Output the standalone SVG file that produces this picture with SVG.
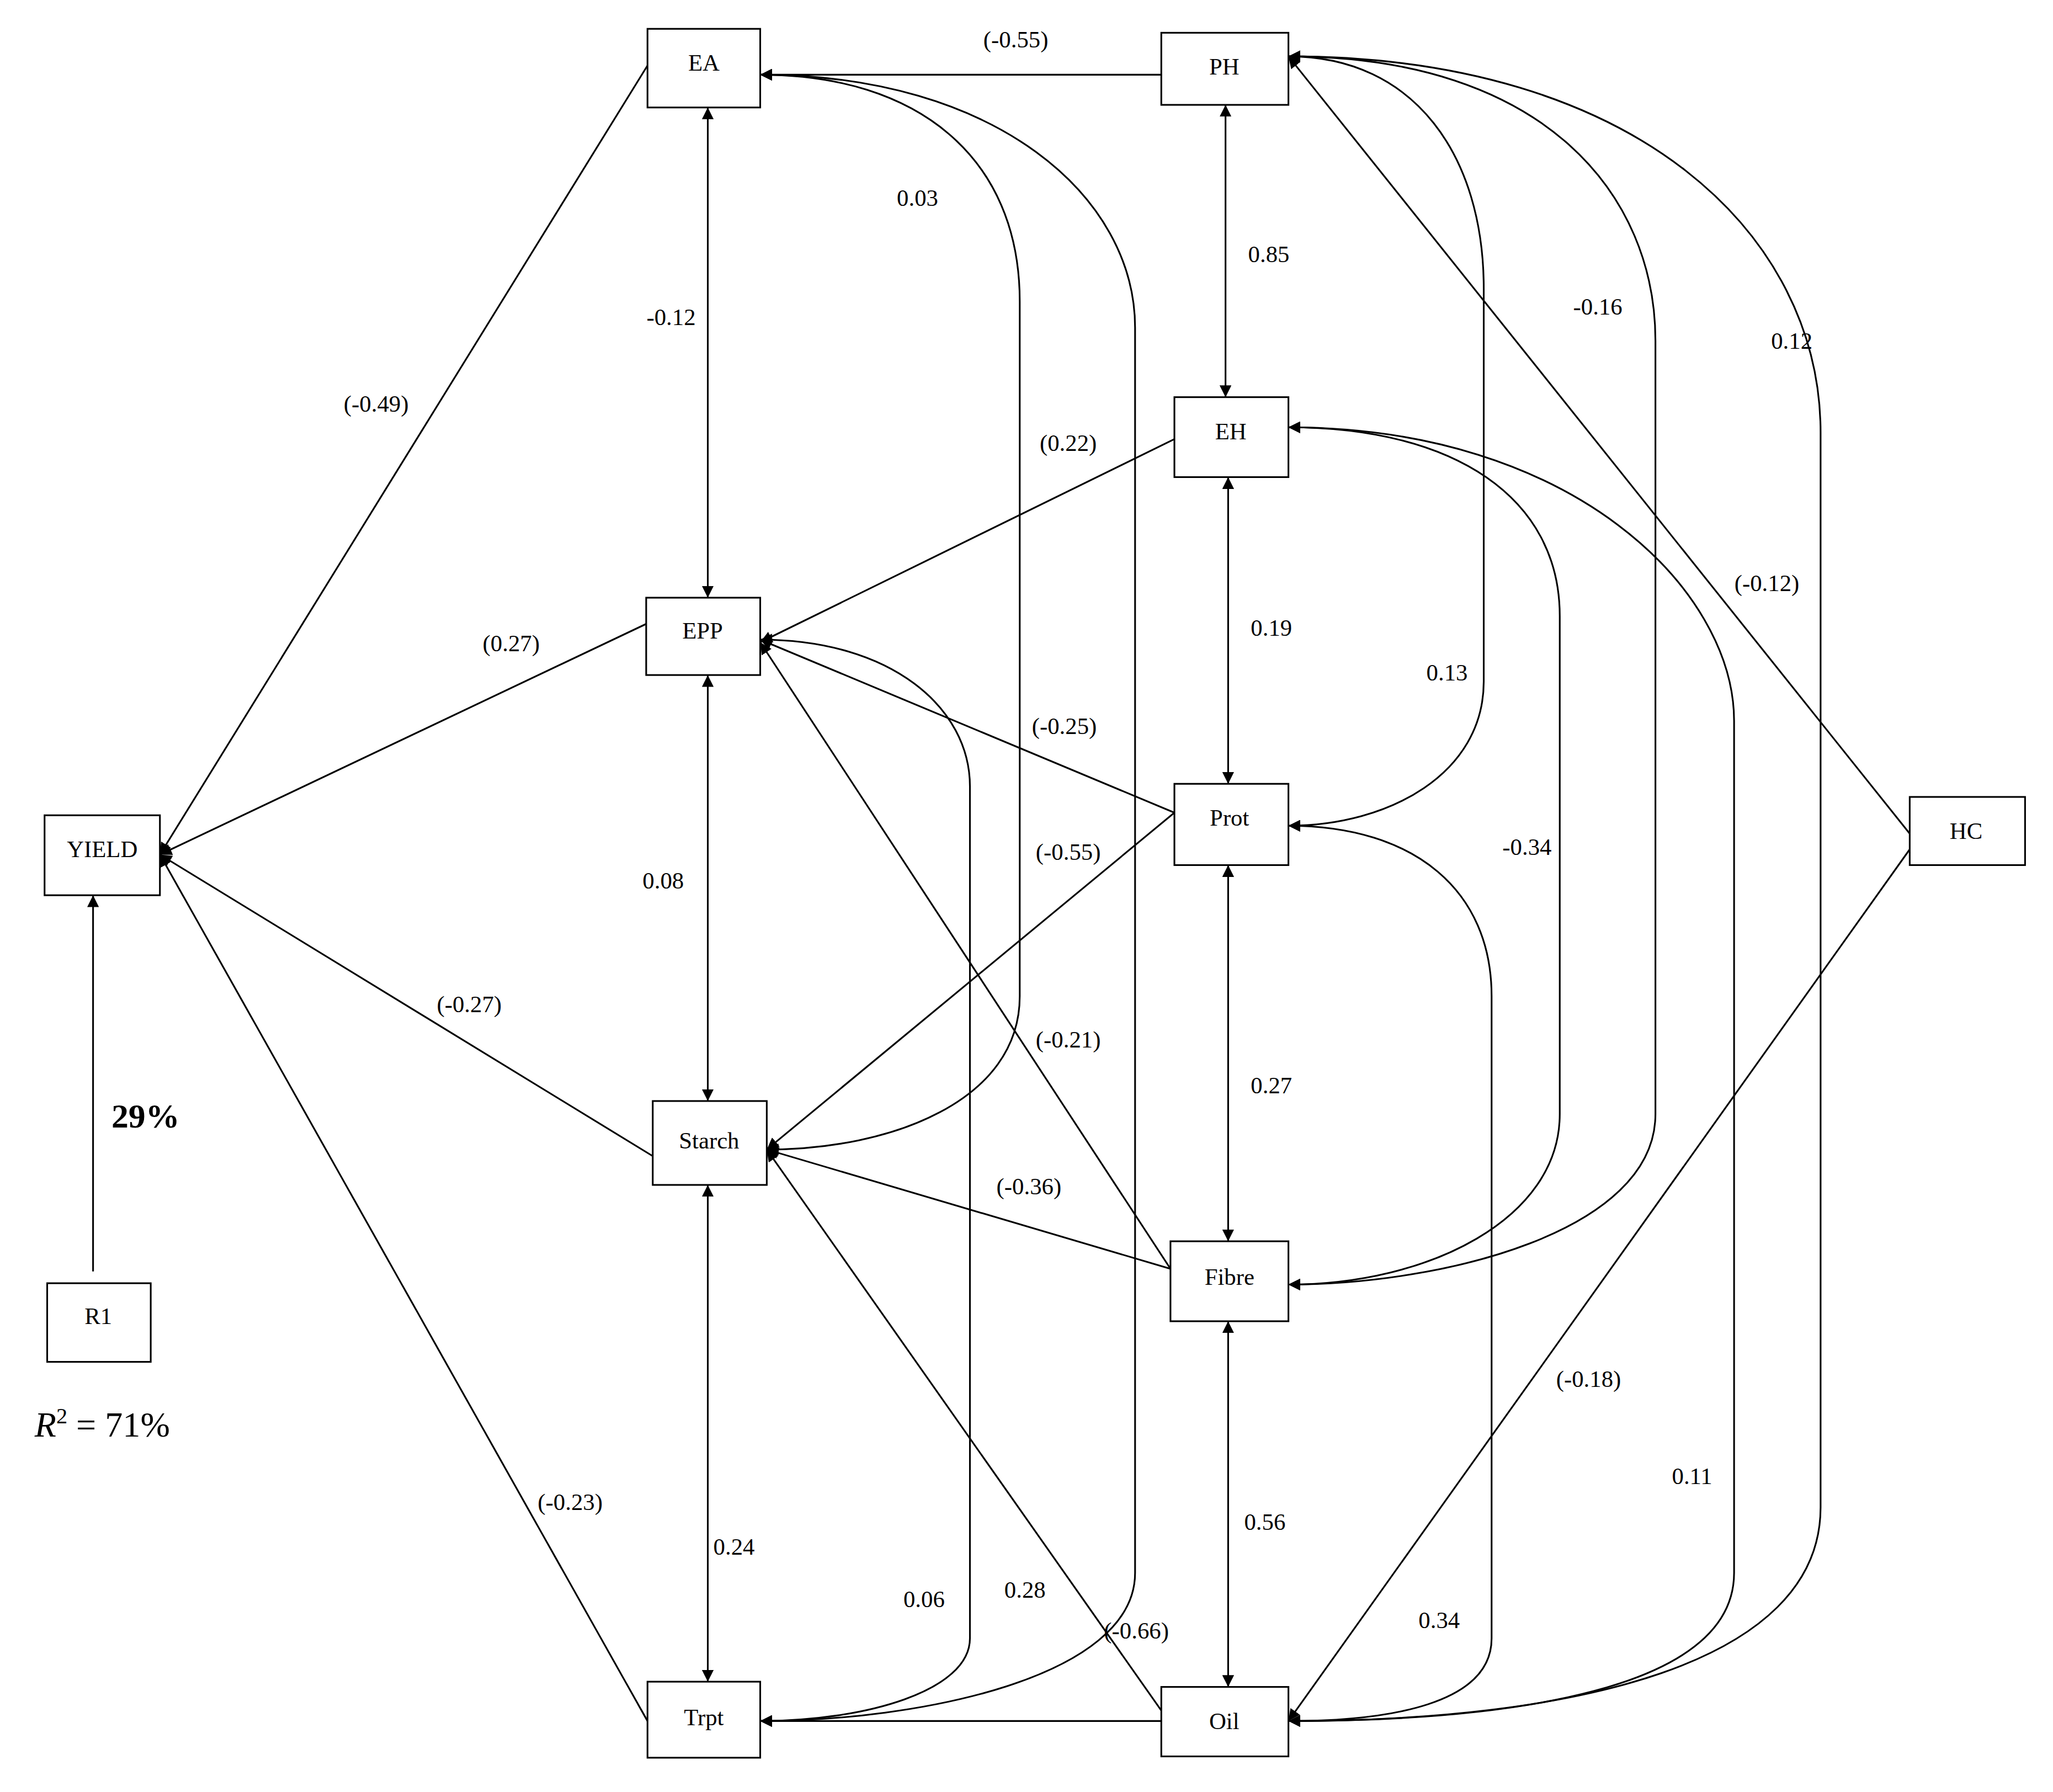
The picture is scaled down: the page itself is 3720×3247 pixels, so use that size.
<svg xmlns="http://www.w3.org/2000/svg" width="3720" height="3247" viewBox="0 0 3720 3247">
<style>
.n{fill:#fff;stroke:#000;stroke-width:1.3}
.t{font-family:"Liberation Serif",serif;font-size:18px;fill:#000;text-anchor:middle}
.c{fill:none;stroke:#000;stroke-width:1.3}
.a{marker-end:url(#ah)}
.d{marker-end:url(#ah);marker-start:url(#ah)}
</style>
<defs><marker id="ah" viewBox="0 0 10 10" refX="10" refY="5" markerWidth="9" markerHeight="9" markerUnits="userSpaceOnUse" orient="auto-start-reverse"><path d="M0,0L10,5L0,10z" fill="#000"/></marker></defs>
<rect width="3720" height="3247" fill="#fff"/>
<g transform="scale(2.375)">
<g id="connectors">
<line class="c a" x1="886" y1="57" x2="580" y2="57"/>
<line class="c a" x1="494" y1="50" x2="122" y2="652"/>
<line class="c d" x1="540" y1="82" x2="540" y2="456"/>
<line class="c d" x1="935" y1="80" x2="935" y2="303"/>
<line class="c a" x1="896" y1="335" x2="580" y2="490"/>
<line class="c a" x1="493" y1="476" x2="122" y2="652"/>
<line class="c d" x1="540" y1="515" x2="540" y2="840"/>
<line class="c d" x1="937" y1="364" x2="937" y2="598"/>
<line class="c a" x1="896" y1="620" x2="580" y2="488"/>
<line class="c a" x1="896" y1="620" x2="585" y2="877"/>
<line class="c a" x1="498" y1="882" x2="122" y2="652"/>
<line class="c d" x1="937" y1="660" x2="937" y2="947"/>
<line class="c a" x1="893" y1="968" x2="580" y2="490"/>
<line class="c a" x1="893" y1="968" x2="585" y2="877"/>
<line class="c d" x1="540" y1="904" x2="540" y2="1283"/>
<line class="c a" x1="494" y1="1313" x2="122" y2="652"/>
<line class="c a" x1="886" y1="1305" x2="585" y2="877"/>
<line class="c d" x1="937" y1="1008" x2="937" y2="1287"/>
<line class="c a" x1="886" y1="1313" x2="580" y2="1313"/>
<line class="c a" x1="71" y1="970" x2="71" y2="683" stroke-width="0.8"/>
<line class="c a" x1="1457" y1="636" x2="983" y2="43"/>
<line class="c a" x1="1457" y1="648" x2="983" y2="1313"/>
<path class="c d" d="M580,57 C700,57 778,120 778,230 L778,760 C778,840 680,877 585,877"/>
<path class="c d" d="M580,57 C760,57 866,150 866,250 L866,1200 C866,1280 700,1313 580,1313"/>
<path class="c d" d="M580,488 C680,488 740,540 740,600 L740,1250 C740,1290 660,1313 580,1313"/>
<path class="c d" d="M983,43 C1080,43 1132,120 1132,220 L1132,520 C1132,590 1060,630 983,630"/>
<path class="c d" d="M983,43 C1180,43 1263,150 1263,260 L1263,850 C1263,940 1100,980 983,980"/>
<path class="c d" d="M983,43 C1250,43 1389,180 1389,330 L1389,1150 C1389,1270 1200,1313 983,1313"/>
<path class="c d" d="M983,326 C1110,326 1190,380 1190,470 L1190,850 C1190,930 1090,980 983,980"/>
<path class="c d" d="M983,326 C1200,326 1323,450 1323,550 L1323,1200 C1323,1290 1150,1313 983,1313"/>
<path class="c d" d="M983,630 C1080,630 1138,680 1138,760 L1138,1250 C1138,1300 1060,1313 983,1313"/>
</g>
<g class="t">
<text x="775" y="36">(-0.55)</text><text x="287" y="314">(-0.49)</text><text x="512" y="248">-0.12</text>
<text x="968" y="200">0.85</text><text x="815" y="344">(0.22)</text><text x="390" y="497">(0.27)</text>
<text x="506" y="678">0.08</text><text x="970" y="485">0.19</text><text x="812" y="560">(-0.25)</text>
<text x="815" y="656">(-0.55)</text><text x="358" y="772">(-0.27)</text><text x="970" y="834">0.27</text>
<text x="815" y="799">(-0.21)</text><text x="785" y="911">(-0.36)</text><text x="560" y="1186">0.24</text>
<text x="435" y="1152">(-0.23)</text><text x="867" y="1250">(-0.66)</text><text x="965" y="1167">0.56</text>
<text x="1348" y="451">(-0.12)</text><text x="1212" y="1058">(-0.18)</text>
<text x="700" y="157">0.03</text><text x="782" y="1219">0.28</text><text x="705" y="1226">0.06</text>
<text x="1104" y="519">0.13</text><text x="1219" y="240">-0.16</text><text x="1367" y="266">0.12</text>
<text x="1165" y="652">-0.34</text><text x="1291" y="1132">0.11</text><text x="1098" y="1242">0.34</text>
<text x="111" y="860" font-size="26" font-weight="bold">29%</text>
<text x="78" y="1096" font-size="27"><tspan font-style="italic">R</tspan><tspan font-size="17" dy="-10">2</tspan><tspan dy="10"> = 71%</tspan></text>
</g>
<g id="EA"><rect class="n" x="494" y="22" width="86" height="60"/><text class="t" x="537" y="54">EA</text></g>
<g id="PH"><rect class="n" x="886" y="25" width="97" height="55"/><text class="t" x="934" y="57">PH</text></g>
<g id="EH"><rect class="n" x="896" y="303" width="87" height="61"/><text class="t" x="939" y="335">EH</text></g>
<g id="EPP"><rect class="n" x="493" y="456" width="87" height="59"/><text class="t" x="536" y="487">EPP</text></g>
<g id="Prot"><rect class="n" x="896" y="598" width="87" height="62"/><text class="t" x="938" y="630">Prot</text></g>
<g id="YIELD"><rect class="n" x="34" y="622" width="88" height="61"/><text class="t" x="78" y="654">YIELD</text></g>
<g id="HC"><rect class="n" x="1457" y="608" width="88" height="52"/><text class="t" x="1500" y="640">HC</text></g>
<g id="Starch"><rect class="n" x="498" y="840" width="87" height="64"/><text class="t" x="541" y="876">Starch</text></g>
<g id="Fibre"><rect class="n" x="893" y="947" width="90" height="61"/><text class="t" x="938" y="980">Fibre</text></g>
<g id="R1"><rect class="n" x="36" y="979" width="79" height="60"/><text class="t" x="75" y="1010">R1</text></g>
<g id="Trpt"><rect class="n" x="494" y="1283" width="86" height="58"/><text class="t" x="537" y="1316">Trpt</text></g>
<g id="Oil"><rect class="n" x="886" y="1287" width="97" height="53"/><text class="t" x="934" y="1319">Oil</text></g>
</g>
</svg>
